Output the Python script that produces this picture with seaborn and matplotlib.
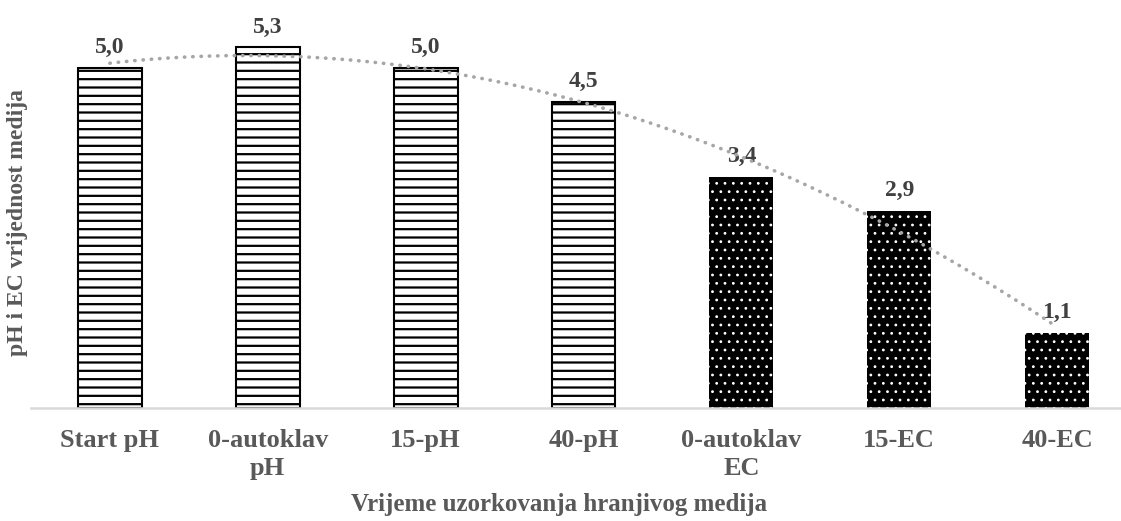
import numpy as np
import pandas as pd
import matplotlib
matplotlib.use("Agg")
import matplotlib.pyplot as plt
import seaborn as sns

# data
categories = ["Start pH", "0-autoklav\npH", "15-pH", "40-pH", "0-autoklav\nEC", "15-EC", "40-EC"]
values = [5.0, 5.3, 5.0, 4.5, 3.4, 2.9, 1.1]
kinds = ["pH", "pH", "pH", "pH", "EC", "EC", "EC"]

sns.set_style("white")
plt.rcParams["font.family"] = ["Liberation Serif", "DejaVu Serif"]
plt.rcParams["font.weight"] = "bold"
plt.rcParams["hatch.linewidth"] = 1.6

df = pd.DataFrame({"uzorak": categories, "vrijednost": values, "tip": kinds})

fig = plt.figure(figsize=(11.21, 5.21), dpi=100)
ax = fig.add_axes([31 / 1121, 113 / 521, 1105 / 1121, 400 / 521])

sns.barplot(data=df, x="uzorak", y="vrijednost", color="white", width=0.405, ax=ax)

for patch, kind in zip(ax.patches, df["tip"]):
    if kind == "pH":
        patch.set_facecolor("white")
        patch.set_edgecolor("black")
        patch.set_linewidth(1.5)
        patch.set_hatch("--")
    else:
        patch.set_facecolor("black")
        patch.set_edgecolor("white")
        patch.set_linewidth(0)
        patch.set_hatch("..")
        if hasattr(patch, "set_hatch_linewidth"):
            patch.set_hatch_linewidth(0.8)

# polynomial (order 2) trendline like in Excel
xs = np.arange(len(values))
coef = np.polyfit(xs, values, 2)
xt = np.linspace(0, len(values) - 1, 200)
ax.plot(xt, np.polyval(coef, xt), color="#A6A6A6", linewidth=2.6,
        linestyle=(0, (0.1, 2.2)), dash_capstyle="round", zorder=5)

# data labels
for i, v in enumerate(values):
    ax.annotate(f"{v:.1f}".replace(".", ","), (i, v), xytext=(0, 7),
                textcoords="offset points", ha="center", va="bottom",
                fontsize=17, fontweight="bold", color="#404040")

ax.set_ylim(0, 5.88)
ax.set_xlim(-0.5, len(values) - 0.5)
ax.set_yticks([])
ax.tick_params(axis="x", length=0, pad=15, labelsize=19, labelcolor="#595959")
for lab in ax.get_xticklabels():
    lab.set_fontweight("bold")
    lab.set_linespacing(1.3)
ax.set_xlabel("")
ax.set_ylabel("")

for s in ["top", "right", "left"]:
    ax.spines[s].set_visible(False)
ax.spines["bottom"].set_color("#D9D9D9")
ax.spines["bottom"].set_linewidth(1.8)

fig.text(559 / 1121, 1 - 505 / 521, "Vrijeme uzorkovanja hranjivog medija",
         ha="center", va="center", fontsize=18, fontweight="bold", color="#595959")
fig.text(18 / 1121, 1 - 222 / 521, "pH i EC vrijednost medija", rotation=90,
         ha="center", va="center", fontsize=17, fontweight="bold", color="#595959")

fig.savefig("out.png", dpi=100)
